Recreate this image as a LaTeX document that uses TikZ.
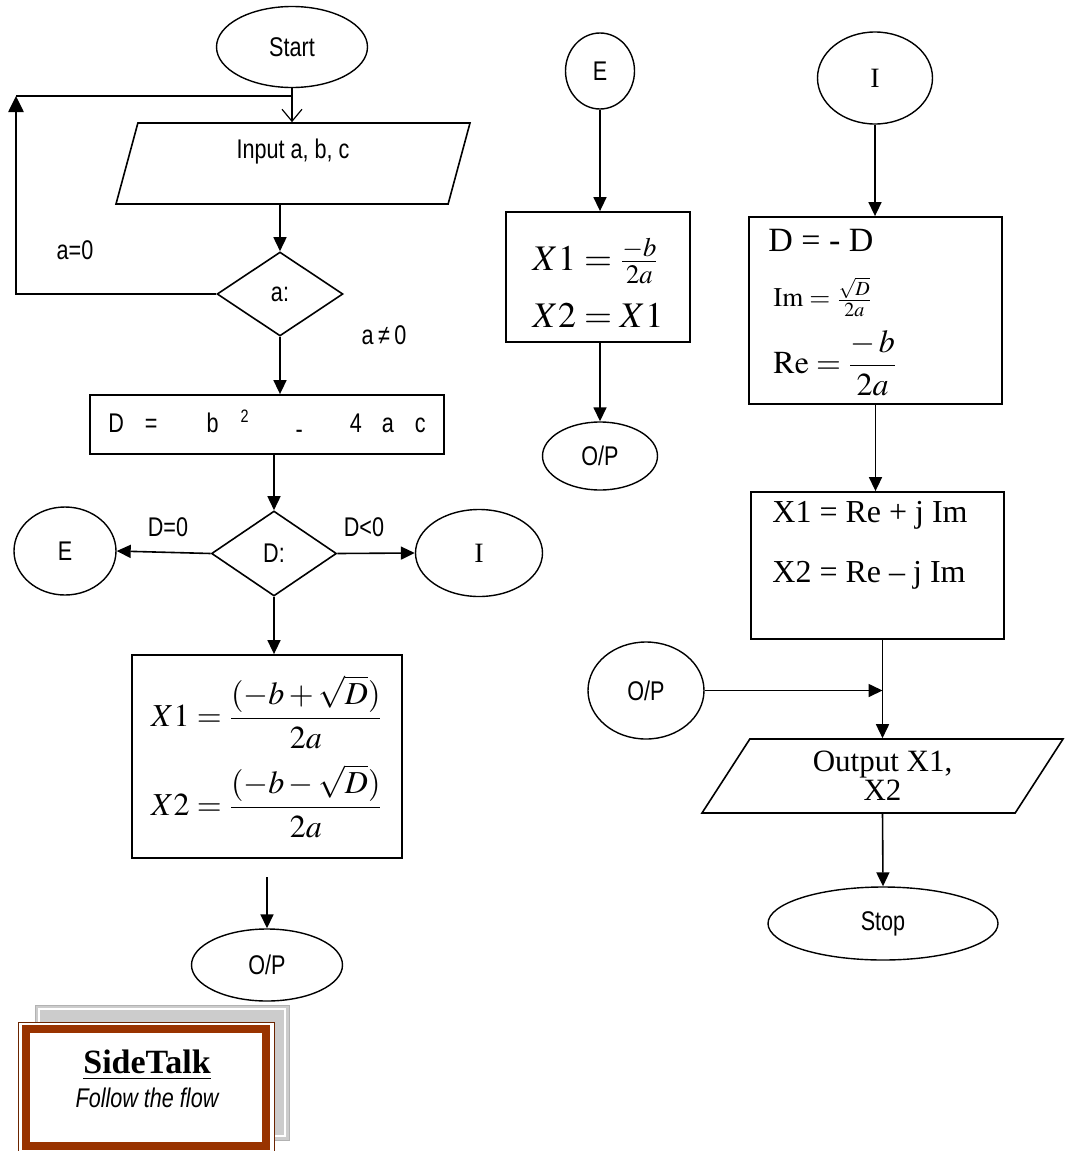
\documentclass[tikz,border=0pt]{standalone}
\usepackage{amsmath}
\usepackage{mathptmx}
\usepackage[no-math]{fontspec}
\setmainfont{Liberation Serif}
\newfontfamily\narrowsf[FakeStretch=0.8]{Liberation Sans}
\usetikzlibrary{calc,positioning,shapes.geometric,arrows.meta}
\usepackage{xcolor}
\definecolor{rust}{RGB}{153,51,0}
\newcommand{\fsize}[1]{\fontsize{#1}{#1}\selectfont}
\tikzset{
  terminal/.style={
    draw,
    ellipse,
    inner sep=0pt,
    line width=0.7pt,
    font=\narrowsf\fsize{13.5},
  },
  io/.style={
    draw,
    trapezium,
    trapezium stretches body,
    inner sep=0pt,
    line width=0.8pt,
  },
  decision/.style={
    draw,
    diamond,
    inner sep=0pt,
    line width=0.8pt,
    font=\narrowsf\fsize{13.5},
  },
  process/.style={
    draw,
    rectangle,
    inner sep=0pt,
    line width=0.9pt,
  },
  lbl/.style={font=\narrowsf\fsize{13.5}, inner sep=0pt},
  eqline/.style={anchor=west, inner sep=0pt},
  flow/.style={line width=0.8pt, -{Triangle[length=7pt,width=6.5pt]}},
  loopline/.style={line width=1.3pt},
}

\begin{document}
\begin{tikzpicture}[x=0.5pt, y=-0.5pt]
  \useasboundingbox (0,0) rectangle (1067,1151);
  % main column
  \node[terminal, minimum width=75.5pt, minimum height=40.5pt] (start) at (292,47) {Start};
  \node[io, trapezium left angle=49, trapezium right angle=131,
        minimum width=177pt, minimum height=40.5pt, font=\narrowsf\fsize{13.5}]
        (in) at (293,163.5) {\raisebox{6pt}[\height][\depth]{Input a, b, c}};
  \node[decision, minimum width=63pt, minimum height=42pt] (qa) at (280,294) {\raisebox{-4pt}{a:}};
  \node[process, minimum width=177pt, minimum height=29.5pt, font=\narrowsf\fsize{13.5}] (disc) at (267,424.5)
    {D\hspace{10.5pt}=\hspace{24.5pt}b\hspace{11pt}\raisebox{5pt}{\fsize{9}2}\hspace{23.5pt}\raisebox{-3pt}{-}\hspace{23.5pt}4\hspace{10pt}a\hspace{10.5pt}c};
  \node[decision, minimum width=62.5pt, minimum height=42.5pt] (qd) at (274,553.5) {\raisebox{-4pt}{D:}};
  \node[terminal, minimum width=51pt, minimum height=44pt] (cE) at (65,551) {E};
  \node[terminal, minimum width=63.5pt, minimum height=43.5pt, font=\rmfamily\fsize{14}] (cI) at (479,553) {I};
  \node[process, minimum width=135pt, minimum height=101.5pt, font=\fsize{16}, align=center] (real) at (267,756.5)
    {$\displaystyle X1=\frac{(-b+\sqrt{D})}{2a}$\\[7pt]$\displaystyle X2=\frac{(-b-\sqrt{D})}{2a}$};
  \coordinate (gap) at (267,877);
  \node[terminal, minimum width=75.5pt, minimum height=36pt] (op1) at (267,965) {O/P};

  \node[lbl] (azero) at (75,250) {a=0};
  \node[lbl] (anzero) at (384,335) {a\,≠\,0};
  \node[lbl] (dzero) at (168,527) {D=0};
  \node[lbl] (dneg) at (364,527) {D<0};

  % equal roots
  \node[terminal, minimum width=34.5pt, minimum height=38pt] (E2) at (600,71) {E};
  \node[process, minimum width=92pt, minimum height=65pt, font=\fsize{18}, align=left] (equal) at (598,277)
    {\rule{0pt}{22pt}$X1=\tfrac{-b}{2a}$\\[9pt]$X2=X1$};
  \node[terminal, minimum width=57.5pt, minimum height=34pt] (op2) at (600,456) {O/P};

  % complex roots
  \node[terminal, minimum width=57.5pt, minimum height=46pt, font=\rmfamily\fsize{14}] (I2) at (875,78) {I};
  \node[process, minimum width=126.5pt, minimum height=93.5pt] (cmplx) at (875.5,310.5) {};
  \node[eqline, font=\fsize{17}] (negD) at (768,240) {D = - D};
  \node[eqline, font=\fsize{13.5}] (imag) at (773,297) {$\mathrm{Im}=\tfrac{\sqrt{D}}{2a}$};
  \node[eqline, font=\fsize{16}] (reel) at (773,363) {$\displaystyle\mathrm{Re}=\frac{-\,b}{2a}$};
  \node[process, minimum width=126.5pt, minimum height=73.5pt] (roots) at (877.5,565.5) {};
  \node[eqline, font=\fsize{16}] (xone) at (772,515) {X1 = Re + j Im};
  \node[eqline, font=\fsize{16}] (xtwo) at (772,575) {X2 = Re – j Im};
  \node[terminal, minimum width=58pt, minimum height=48.5pt] (op3) at (646,690.5) {O/P};
  \node[io, trapezium left angle=46, trapezium right angle=134,
        minimum width=180.5pt, minimum height=37pt, align=center,
        font=\rmfamily\fontsize{15.5}{14.5}\selectfont] (out) at (882.5,776) {Output X1,\\X2};
  \node[terminal, minimum width=115pt, minimum height=36.5pt] (stop) at (883,923.5) {Stop};

  % connectors
  \coordinate (back) at (16,96);
  \draw[line width=0.6pt, -{Straight Barb[length=6pt,width=10pt]}] (start.south) -- (start.south |- in.north);
  \draw[loopline, -{Triangle[length=8pt,width=7.5pt]}] (qa.west) -| (back);
  \draw[loopline] (back) -- (start.south |- back);
  \draw[flow] (qa.north |- in.south) -- (qa.north);
  \draw[flow] (qa.south) -- (qa.south |- disc.north);
  \draw[flow] (disc.south -| qd.north) -- (qd.north);
  \draw[flow] (qd.west) -- (cE.east);
  \draw[flow] (qd.east) -- (cI.west);
  \draw[flow] (qd.south) -- (qd.south |- real.north);
  \draw[flow] (gap) -- (op1.north);
  \draw[flow] (E2.south) -- (E2.south |- equal.north);
  \draw[flow] (equal.south -| op2.north) -- (op2.north);
  \draw[flow] (I2.south) -- (I2.south |- cmplx.north);
  \draw[flow] (cmplx.south) -- (cmplx.south |- roots.north);
  \draw[flow] (roots.south -| out.north) -- (out.north);
  \draw[flow] (op3.east) -- (op3.east -| out.north);
  \draw[flow] (out.south) -- (stop.north);

  % side note
  \draw[draw=gray!60, fill=gray!40] (35,1005) rectangle (289,1140);
  \draw[white, line width=0.6pt] (39,1009) rectangle (285,1136);
  \draw[rust!70!black, line width=0.5pt, fill=white] (18,1022) rectangle (274,1153);
  \draw[rust, line width=4pt] (26,1029) rectangle (266,1146);
  \node[align=center, font=\fsize{17}] (note) at (147,1079)
    {{\bfseries\underline{SideTalk}}\\{\narrowsf\itshape\fsize{13.5}Follow the flow}};
\end{tikzpicture}
\end{document}
